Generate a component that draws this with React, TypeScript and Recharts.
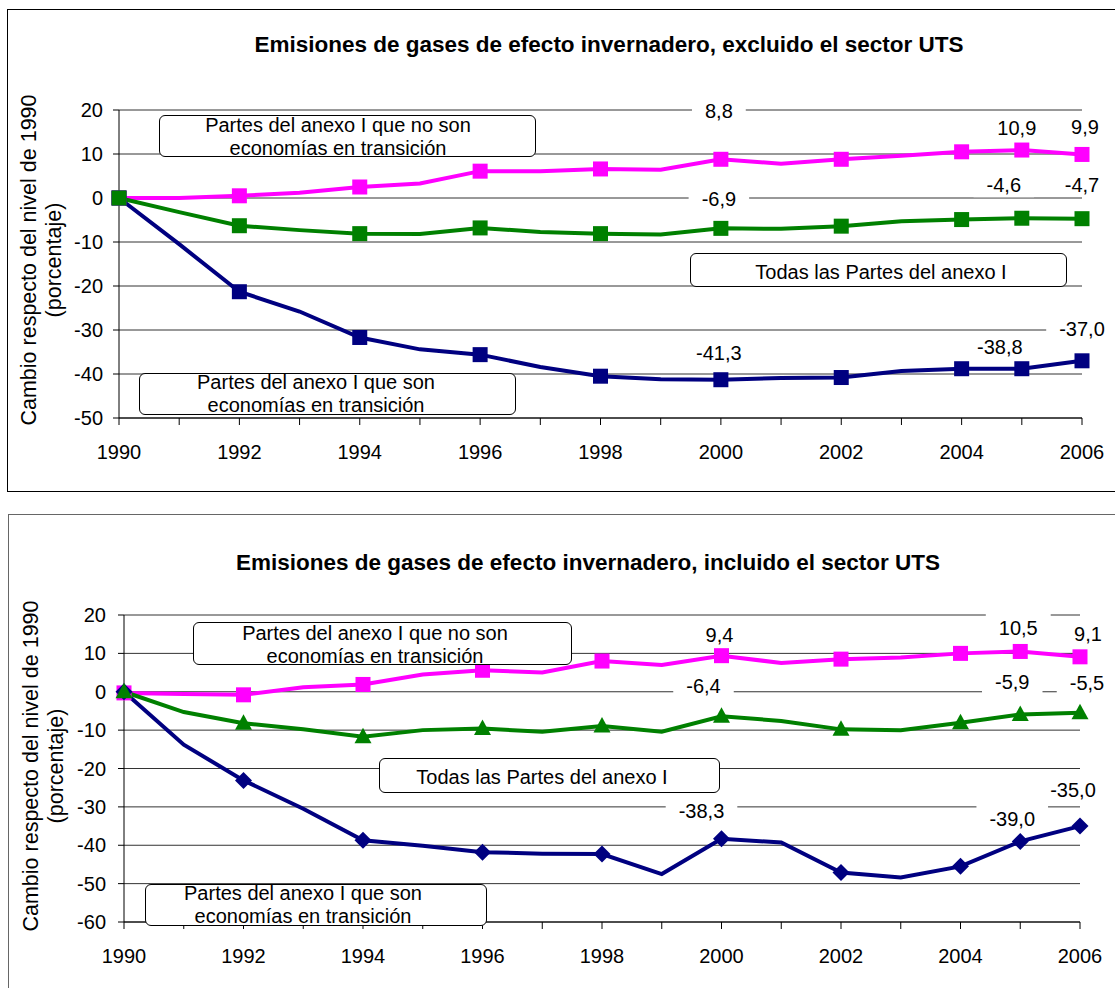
import { CartesianGrid, Line, LineChart, XAxis, YAxis } from 'recharts'

const FONT = '"Liberation Sans", Arial, Helvetica, sans-serif'

const years = [1990, 1991, 1992, 1993, 1994, 1995, 1996, 1997, 1998, 1999, 2000, 2001, 2002, 2003, 2004, 2005, 2006]
const markerYears = [1990, 1992, 1994, 1996, 1998, 2000, 2002, 2004, 2005, 2006]

// excluido el sector UTS
const noEitExcl = [0, 0.0, 0.5, 1.2, 2.5, 3.3, 6.1, 6.1, 6.6, 6.4, 8.8, 7.8, 8.8, 9.6, 10.5, 10.9, 9.9]
const allExcl = [0, -3.2, -6.3, -7.3, -8.1, -8.2, -6.8, -7.7, -8.1, -8.3, -6.9, -7.0, -6.4, -5.3, -4.9, -4.6, -4.7]
const eitExcl = [0, -10.5, -21.3, -25.8, -31.7, -34.4, -35.6, -38.4, -40.5, -41.2, -41.3, -40.9, -40.8, -39.3, -38.8, -38.8, -37.0]

// incluido el sector UTS
const noEitIncl = [-0.3, -0.6, -0.8, 1.2, 1.9, 4.5, 5.6, 5.0, 8.0, 7.0, 9.4, 7.5, 8.5, 8.9, 10.0, 10.5, 9.1]
const allIncl = [0, -5.3, -8.2, -9.8, -11.7, -10.0, -9.6, -10.4, -8.9, -10.4, -6.4, -7.6, -9.8, -10.0, -8.1, -5.9, -5.5]
const eitIncl = [0, -13.8, -23.1, -30.5, -38.7, -40.1, -41.8, -42.2, -42.3, -47.5, -38.3, -39.3, -47.1, -48.4, -45.5, -39.0, -35.0]

const yTicksExcl = [-50, -40, -30, -20, -10, 0, 10, 20]
const yTicksIncl = [-60, -50, -40, -30, -20, -10, 0, 10, 20]

const rowsExcl = years.map((year, i) => ({ year, noEit: noEitExcl[i], all: allExcl[i], eit: eitExcl[i] }))
const rowsIncl = years.map((year, i) => ({ year, noEit: noEitIncl[i], all: allIncl[i], eit: eitIncl[i] }))

type Key = 'noEit' | 'all' | 'eit'
type Shape = 'square' | 'triangle' | 'diamond'
type Offsets = Record<Key, Record<number, [number, number]>>

const COLORS: Record<Key, string> = { noEit: '#ff00ff', all: '#008000', eit: '#000080' }
const ORDER: Key[] = ['noEit', 'eit', 'all']

// pixel offsets of the data labels from their point (hand placed in the original)
const offsetsExcl: Offsets = {
  noEit: { 2000: [-2, -48], 2005: [-5, -22], 2006: [3, -27] },
  all: { 2000: [-2, -29], 2005: [-18, -33], 2006: [0, -34] },
  eit: { 2000: [-2, -27], 2005: [-22, -22], 2006: [0, -32] },
}
const offsetsIncl: Offsets = {
  noEit: { 2000: [-2, -21], 2005: [-2, -23], 2006: [8, -23] },
  all: { 2000: [-18, -30], 2005: [-8, -32], 2006: [7, -30] },
  eit: { 2000: [-20, -28], 2005: [-8, -22], 2006: [-7, -36] },
}

const fmt = (v: number) => v.toFixed(1).replace('.', ',')
const textW = (s: string) => s.split('').reduce((w, c) => w + (c === ',' ? 5.6 : c === '-' ? 6.7 : 11.1), 0)

function markerDot(shape: Shape, color: string) {
  return (p: any) => {
    const key = `m-${p.index}`
    if (!markerYears.includes(p.payload?.year)) return <g key={key} />
    const { cx, cy } = p
    if (shape === 'square') return <rect key={key} x={cx - 7.5} y={cy - 7.5} width={15} height={15} fill={color} />
    if (shape === 'triangle')
      return <polygon key={key} points={`${cx},${cy - 9} ${cx + 8.5},${cy + 6.5} ${cx - 8.5},${cy + 6.5}`} fill={color} />
    return <polygon key={key} points={`${cx},${cy - 8.5} ${cx + 8.5},${cy} ${cx},${cy + 8.5} ${cx - 8.5},${cy}`} fill={color} />
  }
}

function labelDot(k: Key, offsets: Record<number, [number, number]>) {
  return (p: any) => {
    const key = `l-${p.index}`
    const off = offsets[p.payload?.year]
    if (!off) return <g key={key} />
    const x = p.cx + off[0]
    const y = p.cy + off[1]
    const s = fmt(p.payload[k])
    const w = textW(s) + 26
    return (
      <g key={key}>
        <rect x={x - w / 2} y={y - 15} width={w} height={27} fill="#fff" />
        <text x={x} y={y + 7} textAnchor="middle" fontSize={20} fontFamily={FONT} fill="#000">
          {s}
        </text>
      </g>
    )
  }
}

function renderXTick(p: any) {
  const v = p.payload.value
  if (v % 2 !== 0) return <g />
  return (
    <text x={p.x} y={p.y + 32} textAnchor="middle" fontSize={20} fontFamily={FONT} fill="#000">
      {v}
    </text>
  )
}

function Chart({
  rows,
  yTicks,
  tickMargin,
  shapes,
  offsets,
  height,
  margin,
}: {
  rows: any[]
  yTicks: number[]
  tickMargin: number
  shapes: Record<Key, Shape>
  offsets: Offsets
  height: number
  margin: { top: number; right: number; bottom: number; left: number }
}) {
  return (
    <LineChart width={1115} height={height} data={rows} margin={margin}>
      <CartesianGrid vertical={false} stroke="#333" />
      <XAxis
        dataKey="year"
        type="number"
        domain={[1990, 2006]}
        ticks={years}
        interval={0}
        tick={renderXTick}
        tickLine={{ stroke: '#000' }}
        axisLine={{ stroke: '#000' }}
        tickSize={7}
        height={30}
      />
      <YAxis
        type="number"
        domain={[yTicks[0], yTicks[yTicks.length - 1]]}
        ticks={yTicks}
        interval={0}
        width={60}
        tickMargin={tickMargin}
        tick={{ fontSize: 20, fill: '#000', fontFamily: FONT }}
        tickLine={{ stroke: '#000' }}
        axisLine={{ stroke: '#000' }}
      />
      {ORDER.map((k) => (
        <Line
          key={'lbl-' + k}
          dataKey={k}
          stroke="none"
          dot={labelDot(k, offsets[k])}
          activeDot={false}
          isAnimationActive={false}
        />
      ))}
      {ORDER.map((k) => (
        <Line
          key={k}
          dataKey={k}
          type="linear"
          stroke={COLORS[k]}
          strokeWidth={4}
          dot={markerDot(shapes[k], COLORS[k])}
          activeDot={false}
          isAnimationActive={false}
        />
      ))}
    </LineChart>
  )
}

const abs = (left: number, top: number): React.CSSProperties => ({ position: 'absolute', left, top })

function NoteBox({ left, top, width, height }: { left: number; top: number; width: number; height: number }) {
  return (
    <div
      style={{
        ...abs(left, top),
        width,
        height,
        boxSizing: 'border-box',
        border: '1.5px solid #000',
        borderRadius: 6,
        background: '#fff',
      }}
    />
  )
}

function NoteText({ cx, cy, lines }: { cx: number; cy: number; lines: string[] }) {
  return (
    <div
      style={{
        ...abs(cx - 250, cy - lines.length * 11.5),
        width: 500,
        textAlign: 'center',
        fontSize: 20,
        lineHeight: '23px',
        whiteSpace: 'nowrap',
      }}
    >
      {lines.map((l) => (
        <div key={l}>{l}</div>
      ))}
    </div>
  )
}

function Title({ cx, cy, text }: { cx: number; cy: number; text: string }) {
  return (
    <div
      style={{
        ...abs(cx - 500, cy - 13),
        width: 1000,
        textAlign: 'center',
        fontSize: 22.5,
        fontWeight: 'bold',
        lineHeight: '26px',
        whiteSpace: 'nowrap',
      }}
    >
      {text}
    </div>
  )
}

function YLabel({ cx, cy }: { cx: number; cy: number }) {
  return (
    <div
      style={{
        ...abs(cx, cy),
        width: 420,
        textAlign: 'center',
        fontSize: 21.5,
        lineHeight: '25px',
        whiteSpace: 'nowrap',
        transform: 'translate(-50%, -50%) rotate(-90deg)',
      }}
    >
      <div>Cambio respecto del nivel de 1990</div>
      <div>(porcentaje)</div>
    </div>
  )
}

export default function App() {
  return (
    <div
      style={{
        position: 'absolute',
        left: 0,
        top: 0,
        width: 1115,
        height: 988,
        overflow: 'hidden',
        background: '#fff',
        fontFamily: FONT,
        color: '#000',
      }}
    >
      {/* excluido */}
      <div style={{ ...abs(7, 9), width: 1130, height: 483, boxSizing: 'border-box', border: '1px solid #000' }} />
      <div style={abs(0, 0)}>
        <Chart
          rows={rowsExcl}
          yTicks={yTicksExcl}
          tickMargin={10}
          shapes={{ noEit: 'square', all: 'square', eit: 'square' }}
          offsets={offsetsExcl}
          height={500}
          margin={{ top: 110, right: 33, bottom: 52, left: 59 }}
        />
      </div>
      <Title cx={609} cy={45} text="Emisiones de gases de efecto invernadero, excluido el sector UTS" />
      <YLabel cx={42} cy={260} />
      <NoteBox left={159} top={115} width={377} height={42} />
      <NoteText cx={338} cy={137} lines={['Partes del anexo I que no son', 'economías en transición']} />
      <NoteBox left={690} top={253} width={377} height={34} />
      <NoteText cx={881} cy={272} lines={['Todas las Partes del anexo I']} />
      <NoteBox left={139} top={373} width={377} height={42} />
      <NoteText cx={316} cy={394} lines={['Partes del anexo I que son', 'economías en transición']} />

      {/* incluido */}
      <div style={{ ...abs(8, 514), width: 1130, height: 500, boxSizing: 'border-box', border: '1px solid #666' }} />
      <div style={abs(0, 500)}>
        <Chart
          rows={rowsIncl}
          yTicks={yTicksIncl}
          tickMargin={12}
          shapes={{ noEit: 'square', all: 'triangle', eit: 'diamond' }}
          offsets={offsetsIncl}
          height={488}
          margin={{ top: 115, right: 35, bottom: 36, left: 64 }}
        />
      </div>
      <Title cx={588} cy={563} text="Emisiones de gases de efecto invernadero, incluido el sector UTS" />
      <YLabel cx={44} cy={766} />
      <NoteBox left={193} top={622} width={379} height={43} />
      <NoteText cx={375} cy={645} lines={['Partes del anexo I que no son', 'economías en transición']} />
      <NoteBox left={379} top={758} width={341} height={35} />
      <NoteText cx={542} cy={777} lines={['Todas las Partes del anexo I']} />
      <NoteBox left={145} top={884} width={342} height={42} />
      <NoteText cx={303} cy={905} lines={['Partes del anexo I que son', 'economías en transición']} />
    </div>
  )
}
